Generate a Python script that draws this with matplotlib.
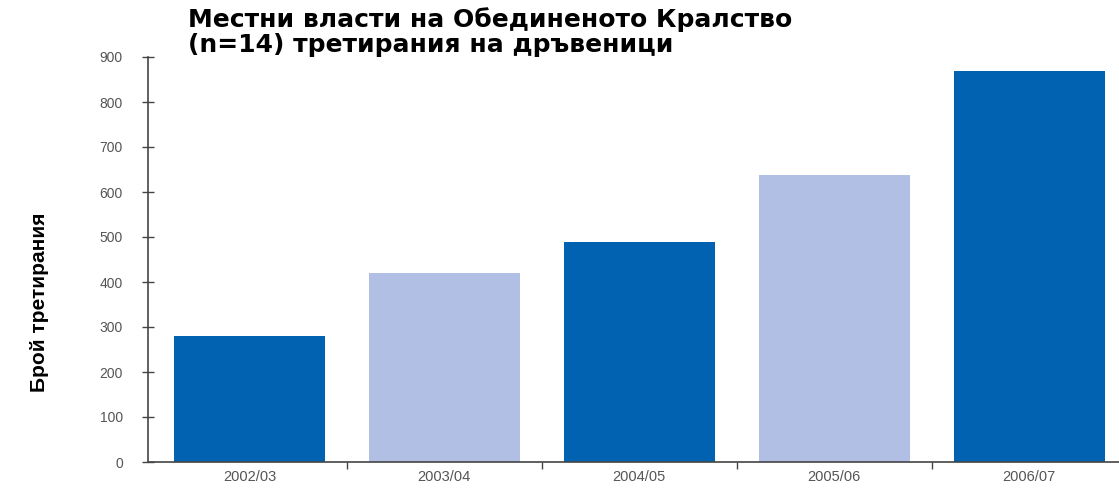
import matplotlib
matplotlib.use('Agg')
import matplotlib.pyplot as plt

# данни
seasons = ['2002/03', '2003/04', '2004/05', '2005/06', '2006/07']
treatments = [280, 420, 488, 637, 870]
bar_colors = ['#0062b0', '#b0bfe3', '#0062b0', '#b0bfe3', '#0062b0']
y_ticks = [0, 100, 200, 300, 400, 500, 600, 700, 800, 900]

title = 'Местни власти на Обединеното Кралство\n(n=14) третирания на дръвеници'
y_label = 'Брой третирания'

plt.rcParams['font.family'] = ['Liberation Sans', 'DejaVu Sans']

fig = plt.figure(figsize=(11.19, 4.91), dpi=100)
ax = fig.add_axes([148/1119, 29/491, 1 - 148/1119, 405/491])

x = range(len(seasons))
ax.bar(x, treatments, width=0.775, color=bar_colors)

ax.set_ylim(0, 900)
ax.set_xlim(-0.52, 4.46)
ax.set_yticks(y_ticks)
ax.set_yticklabels([str(v) for v in y_ticks])
ax.set_xticks(list(x))
ax.set_xticklabels(seasons)
ax.set_xticks([i + 0.5 for i in range(len(seasons) - 1)], minor=True)

for s in ['top', 'right']:
    ax.spines[s].set_visible(False)
for s in ['left', 'bottom']:
    ax.spines[s].set_color('#444444')
    ax.spines[s].set_linewidth(1.2)

ax.tick_params(axis='y', direction='inout', length=8, width=1, color='#444444',
               labelsize=10, labelcolor='#555555', pad=14)
ax.tick_params(axis='x', which='major', length=0, labelsize=10.5,
               labelcolor='#555555', pad=6)
ax.tick_params(axis='x', which='minor', direction='out', length=5, width=1,
               color='#444444')

fig.text(188/1119, 1 - 7/491, title, ha='left', va='top', fontsize=18,
         fontweight='bold', linespacing=1.05, family=['DejaVu Sans'])
fig.text(40/1119, 1 - 302/491, y_label, rotation=90, ha='center', va='center',
         fontsize=15, fontweight='bold',
         family=['Liberation Sans Narrow', 'Liberation Sans', 'DejaVu Sans'])

fig.savefig('out.png', dpi=100)
